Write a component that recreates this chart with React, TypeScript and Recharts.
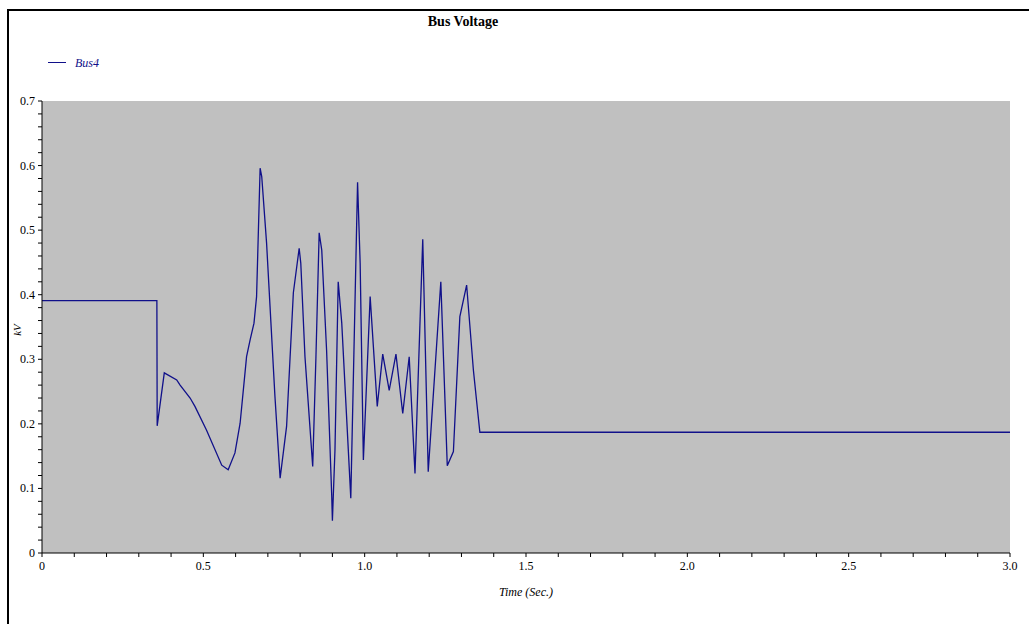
import React from "react";
import { LineChart, Line, XAxis, YAxis, CartesianGrid } from "recharts";

const times = [
  0, 0.356, 0.357, 0.379, 0.4175, 0.428, 0.459, 0.474, 0.51, 0.557, 0.577, 0.598, 0.614,
  0.634, 0.645, 0.657, 0.665, 0.676, 0.681, 0.696, 0.722, 0.738, 0.758, 0.779, 0.797,
  0.802, 0.815, 0.839, 0.849, 0.859, 0.867, 0.882, 0.898, 0.9, 0.908, 0.918, 0.929,
  0.957, 0.978, 0.986, 0.996, 1.017, 1.039, 1.056, 1.076, 1.097, 1.118, 1.138, 1.156,
  1.18, 1.197, 1.236, 1.256, 1.275, 1.295, 1.316, 1.337, 1.357, 3.0,
];
const bus4 = [
  0.391, 0.391, 0.197, 0.279, 0.268, 0.26, 0.24, 0.227, 0.19, 0.136, 0.129, 0.155, 0.201,
  0.304, 0.33, 0.356, 0.397, 0.596, 0.583, 0.48, 0.242, 0.116, 0.196, 0.403, 0.472,
  0.449, 0.304, 0.134, 0.304, 0.496, 0.469, 0.314, 0.087, 0.05, 0.16, 0.42, 0.356,
  0.085, 0.574, 0.449, 0.144, 0.397, 0.227, 0.308, 0.252, 0.308, 0.216, 0.304, 0.123,
  0.486, 0.126, 0.42, 0.135, 0.157, 0.366, 0.415, 0.283, 0.187, 0.187,
];

const xTicks = [
  0, 0.1, 0.2, 0.3, 0.4, 0.5, 0.6, 0.7, 0.8, 0.9, 1.0, 1.1, 1.2, 1.3, 1.4, 1.5, 1.6, 1.7,
  1.8, 1.9, 2.0, 2.1, 2.2, 2.3, 2.4, 2.5, 2.6, 2.7, 2.8, 2.9, 3.0,
];
const xLabels: Record<string, string> = {
  "0": "0", "0.5": "0.5", "1": "1.0", "1.5": "1.5", "2": "2.0", "2.5": "2.5", "3": "3.0",
};
const yTicks = [
  0, 0.02, 0.04, 0.06, 0.08, 0.1, 0.12, 0.14, 0.16, 0.18, 0.2, 0.22, 0.24, 0.26, 0.28,
  0.3, 0.32, 0.34, 0.36, 0.38, 0.4, 0.42, 0.44, 0.46, 0.48, 0.5, 0.52, 0.54, 0.56, 0.58,
  0.6, 0.62, 0.64, 0.66, 0.68, 0.7,
];
const yLabels: Record<string, string> = {
  "0": "0", "0.1": "0.1", "0.2": "0.2", "0.3": "0.3", "0.4": "0.4", "0.5": "0.5",
  "0.6": "0.6", "0.7": "0.7",
};

const data = times.map((t, i) => ({ t, v: bus4[i] }));

const FONT = "'Liberation Serif', 'DejaVu Serif', serif";
const LINE = "#10108a";

const XTick = (props: any) => {
  const { x, y, payload } = props;
  const label = xLabels[String(payload.value)];
  if (!label) return <g />;
  return (
    <text x={x} y={y + 11} textAnchor="middle" fontFamily={FONT} fontSize={12} fill="#000">
      {label}
    </text>
  );
};

const YTick = (props: any) => {
  const { x, y, payload } = props;
  const label = yLabels[String(payload.value)];
  if (!label) return <g />;
  return (
    <text x={x - 1} y={y + 4} textAnchor="end" fontFamily={FONT} fontSize={12} fill="#000">
      {label}
    </text>
  );
};

export default function App() {
  return (
    <div style={{ position: "absolute", left: 0, top: 0, width: 1029, height: 624, background: "#fff", overflow: "hidden" }}>
      <div
        style={{
          position: "absolute",
          left: 7,
          top: 9,
          width: 1100,
          height: 700,
          borderLeft: "2px solid #000",
          borderTop: "2px solid #000",
        }}
      />
      <div style={{ position: "absolute", left: 0, top: 0 }}>
        <LineChart width={1029} height={624} data={data} margin={{ top: 101, right: 19, left: 0, bottom: 0 }}>
          <CartesianGrid horizontal={false} vertical={false} fill="#c0c0c0" stroke="none" />
          <XAxis
            dataKey="t"
            type="number"
            domain={[0, 3]}
            ticks={xTicks}
            interval={0}
            height={71}
            tickSize={4}
            tick={<XTick />}
            axisLine={{ stroke: "#000" }}
            tickLine={{ stroke: "#000" }}
          />
          <YAxis
            type="number"
            domain={[0, 0.7]}
            ticks={yTicks}
            interval={0}
            width={42}
            tickSize={4}
            tick={<YTick />}
            axisLine={{ stroke: "#000" }}
            tickLine={{ stroke: "#000" }}
          />
          <Line
            type="linear"
            dataKey="v"
            stroke={LINE}
            strokeWidth={1.3}
            dot={false}
            isAnimationActive={false}
          />
        </LineChart>
      </div>
      <div
        style={{
          position: "absolute",
          left: 363,
          width: 200,
          top: 14,
          textAlign: "center",
          fontFamily: FONT,
          fontWeight: "bold",
          fontSize: 14,
          color: "#000",
        }}
      >
        Bus Voltage
      </div>
      <div style={{ position: "absolute", left: 48, top: 62, width: 18, height: 1, background: LINE }} />
      <div
        style={{
          position: "absolute",
          left: 75,
          top: 56,
          fontFamily: FONT,
          fontStyle: "italic",
          fontSize: 12,
          color: LINE,
        }}
      >
        Bus4
      </div>
      <div
        style={{
          position: "absolute",
          left: 0,
          top: 322,
          width: 34,
          height: 16,
          lineHeight: "16px",
          textAlign: "center",
          transform: "rotate(-90deg)",
          transformOrigin: "17px 8px",
          fontFamily: FONT,
          fontStyle: "italic",
          fontSize: 11,
          color: "#000",
        }}
      >
        kV
      </div>
      <div
        style={{
          position: "absolute",
          left: 426,
          width: 200,
          top: 585,
          textAlign: "center",
          fontFamily: FONT,
          fontStyle: "italic",
          fontSize: 12,
          color: "#000",
        }}
      >
        Time (Sec.)
      </div>
    </div>
  );
}
